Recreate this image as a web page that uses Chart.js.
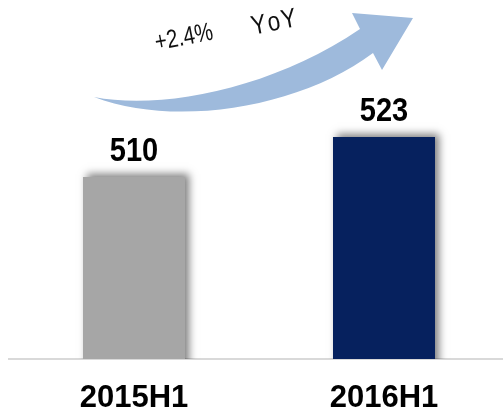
<!DOCTYPE html>
<html>
<head>
<meta charset="utf-8">
<script src="https://cdn.jsdelivr.net/npm/chart.js@4.4.1/dist/chart.umd.min.js"></script>
<style>
  html, body { margin: 0; padding: 0; background: #ffffff; overflow: hidden; }
  #wrap { width: 509px; height: 414px; }
</style>
</head>
<body>
<div id="wrap"><canvas id="c" width="509" height="414"></canvas></div>
<script>
// ---- data ----
const categories = ['2015H1', '2016H1'];
const values = [510, 523];
const barColors = ['#A6A6A6', '#06215E'];
const growthPct = '+2.4%';
const growthTag = 'YoY';
const axisMin = 450.85;
const axisMax = 567.5;

const FONT = '"Liberation Sans", Arial, Helvetica, sans-serif';

const shadowPlugin = {
  id: 'barShadow',
  beforeDatasetsDraw(chart) {
    const ctx = chart.ctx;
    ctx.save();
    ctx.shadowColor = 'rgba(0,0,0,0.5)';
    ctx.shadowBlur = 8;
    ctx.shadowOffsetX = 4;
    ctx.shadowOffsetY = -3;
  },
  afterDatasetsDraw(chart) {
    const ctx = chart.ctx;
    ctx.restore();
    const meta = chart.getDatasetMeta(0);
    ctx.save();
    ctx.fillStyle = '#000000';
    ctx.font = 'bold 29px ' + FONT;
    ctx.textAlign = 'center';
    ctx.textBaseline = 'alphabetic';
    meta.data.forEach((bar, i) => {
      ctx.save();
      ctx.translate(bar.x, bar.y - 16);
      ctx.scale(1, 1.15);
      ctx.fillText(String(chart.data.datasets[0].data[i]), 0, 0);
      ctx.restore();
    });
    ctx.restore();
  }
};

function spacedText(ctx, txt, spacing) {
  const chars = txt.split('');
  let total = 0;
  chars.forEach((ch, i) => { total += ctx.measureText(ch).width + (i < chars.length - 1 ? spacing : 0); });
  let x = -total / 2;
  chars.forEach(ch => { ctx.fillText(ch, x, 0); x += ctx.measureText(ch).width + spacing; });
}

const arrowPlugin = {
  id: 'growthArrow',
  afterDraw(chart) {
    const ctx = chart.ctx;
    ctx.save();
    ctx.fillStyle = '#9EBADC';
    ctx.beginPath();
    ctx.moveTo(94, 97);
    ctx.bezierCurveTo(160, 110, 270, 90, 360, 29);
    ctx.lineTo(352, 13);
    ctx.lineTo(413, 18);
    ctx.lineTo(382, 70);
    ctx.lineTo(373, 53);
    ctx.bezierCurveTo(300, 108, 175, 128, 94, 97);
    ctx.closePath();
    ctx.fill();
    ctx.restore();

    const rot = -11 * Math.PI / 180;
    ctx.save();
    ctx.fillStyle = '#111111';
    ctx.textBaseline = 'middle';
    ctx.textAlign = 'left';
    ctx.save();
    ctx.translate(184, 38);
    ctx.rotate(rot);
    ctx.scale(1, 1.25);
    ctx.font = '20.5px ' + FONT;
    spacedText(ctx, growthPct, 0);
    ctx.restore();
    ctx.save();
    ctx.translate(274, 23);
    ctx.rotate(rot);
    ctx.scale(1, 1.2);
    ctx.font = '22.5px ' + FONT;
    spacedText(ctx, growthTag, 1.5);
    ctx.restore();
    ctx.restore();
  }
};

new Chart(document.getElementById('c'), {
  type: 'bar',
  data: {
    labels: categories,
    datasets: [{
      data: values,
      backgroundColor: barColors,
      borderWidth: 0,
      barPercentage: 0.408,
      categoryPercentage: 1.0
    }]
  },
  options: {
    responsive: false,
    devicePixelRatio: 1,
    animation: false,
    layout: { padding: { left: 9, top: 0, right: 0, bottom: 0 } },
    plugins: { legend: { display: false }, tooltip: { enabled: false } },
    scales: {
      y: { display: false, min: axisMin, max: axisMax },
      x: {
        afterFit(scale) { scale.height = 55; },
        grid: { display: false, drawTicks: false },
        border: { display: true, color: '#D9D9D9', width: 2 },
        ticks: {
          color: '#000000',
          padding: 21,
          font: { family: FONT, size: 31, weight: 'bold', lineHeight: 1.2 }
        }
      }
    }
  },
  plugins: [shadowPlugin, arrowPlugin]
});
</script>
</body>
</html>
